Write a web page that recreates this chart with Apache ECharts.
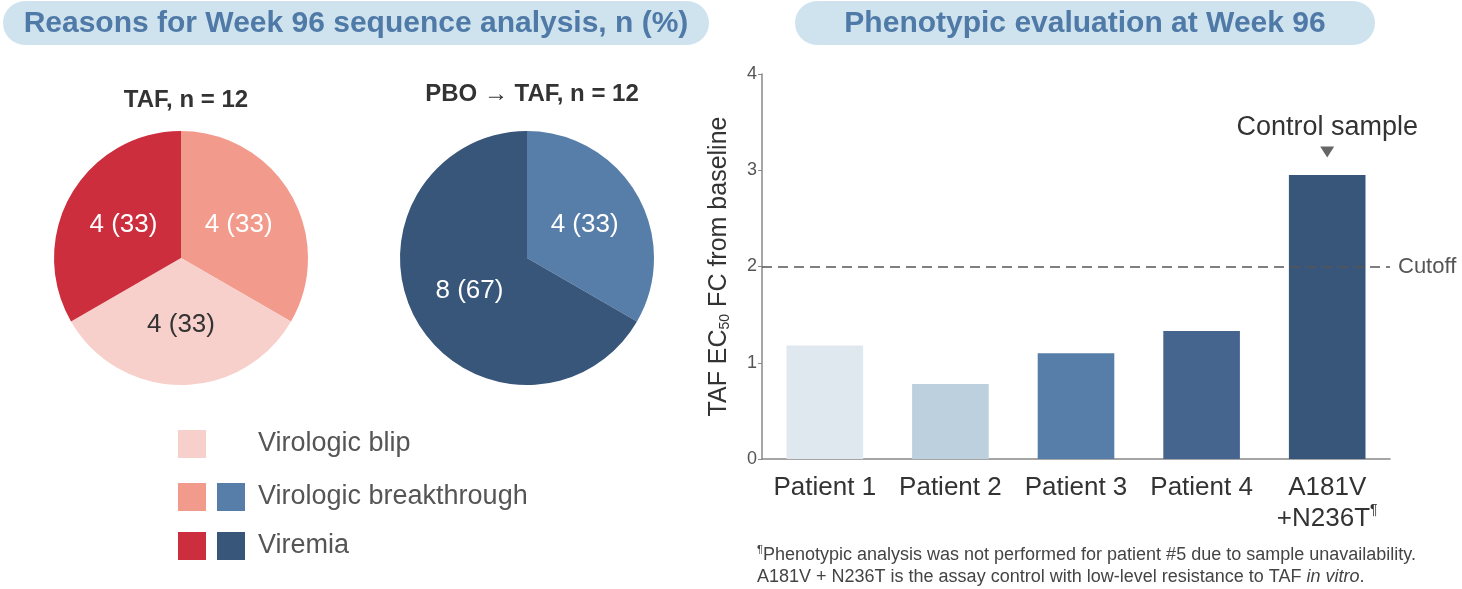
<!DOCTYPE html>
<html>
<head>
<meta charset="utf-8">
<script src="https://cdn.jsdelivr.net/npm/echarts@6/dist/echarts.min.js"></script>
<style>
  html, body { margin: 0; padding: 0; background: #fff; }
  #main { width: 1462px; height: 589px; }
</style>
</head>
<body>
<div id="main"></div>
<script>
// pie data
const reasons = ['Virologic blip', 'Virologic breakthrough', 'Viremia'];
const tafCounts = [4, 4, 4];
const tafPct = [33, 33, 33];
const pboCounts = [0, 4, 8];
const pboPct = [0, 33, 67];
const tafColors = ['#f8d0cb', '#f29b8d', '#cc2e3d'];
const pboColors = ['#dfe7ef', '#577ea8', '#38557a'];
// order of slices clockwise from 12 o'clock
const sliceOrder = [1, 0, 2];

// bar data
const patients = ['Patient 1', 'Patient 2', 'Patient 3', 'Patient 4', 'A181V\n+N236T{sup|¶}'];
const fcValues = [1.18, 0.78, 1.10, 1.33, 2.95];
const barColors = ['#dfe7ef', '#bcd0de', '#577ea8', '#45658e', '#38557a'];
const cutoff = 2;
const yTicks = [0, 1, 2, 3, 4];

const FONT = '"Liberation Sans", Arial, sans-serif';

let chart = echarts.init(document.getElementById('main'));

function pieData(counts, pct, colors) {
  let out = [];
  for (let i of sliceOrder) {
    if (counts[i] === 0) continue;
    out.push({
      name: reasons[i],
      value: counts[i],
      pct: pct[i],
      itemStyle: { color: colors[i] },
      label: { color: i === 0 ? '#333' : '#fff' }
    });
  }
  return out;
}

function pieSeries(center, counts, pct, colors) {
  let data = pieData(counts, pct, colors);
  return {
    type: 'pie',
    center: center,
    radius: 127,
    startAngle: 90,
    clockwise: true,
    silent: true,
    label: {
      position: 'inside',
      fontFamily: FONT,
      fontSize: 26,
      formatter: p => p.value + ' (' + data[p.dataIndex].pct + ')'
    },
    labelLine: { show: false },
    data: data
  };
}

// legend built as graphic (two swatch columns)
let legendGraphics = [];
const legendRows = [444, 497, 546];
for (let i = 0; i < reasons.length; i++) {
  legendGraphics.push({
    type: 'rect', x: 178, y: legendRows[i] - 14,
    shape: { width: 28, height: 28 }, style: { fill: tafColors[i] }
  });
  if (pboCounts[i] > 0) {
    legendGraphics.push({
      type: 'rect', x: 217, y: legendRows[i] - 14,
      shape: { width: 28, height: 28 }, style: { fill: pboColors[i] }
    });
  }
  legendGraphics.push({
    type: 'text', x: 258, y: legendRows[i],
    style: { text: reasons[i], fontFamily: FONT, fontSize: 27, fill: '#555', align: 'left', verticalAlign: 'middle' }
  });
}

let option = {
  animation: false,
  title: [
    { text: 'TAF, n = 12', left: 181, top: 83, textAlign: 'center',
      textStyle: { fontFamily: FONT, fontSize: 24, fontWeight: 'bold', color: '#333' } },
    { text: 'PBO → TAF, n = 12', left: 527, top: 77, textAlign: 'center',
      textStyle: { fontFamily: FONT, fontSize: 24, fontWeight: 'bold', color: '#333' } }
  ],
  graphic: [
    { type: 'rect', x: 3, y: 1, shape: { width: 706, height: 44, r: 22 }, style: { fill: '#cfe3ef' } },
    { type: 'text', x: 356, y: 24, style: { text: 'Reasons for Week 96 sequence analysis, n (%)',
      align: 'center', verticalAlign: 'middle', fontFamily: FONT, fontWeight: 'bold', fontSize: 30, fill: '#4f79a6' } },
    { type: 'rect', x: 795, y: 1, shape: { width: 580, height: 44, r: 22 }, style: { fill: '#cfe3ef' } },
    { type: 'text', x: 1085, y: 24, style: { text: 'Phenotypic evaluation at Week 96',
      align: 'center', verticalAlign: 'middle', fontFamily: FONT, fontWeight: 'bold', fontSize: 30, fill: '#4f79a6' } },
    {
      type: 'text', x: 757, y: 544,
      style: {
        text: '{sup|¶}Phenotypic analysis was not performed for patient #5 due to sample unavailability.\nA181V + N236T is the assay control with low-level resistance to TAF {it|in vitro}.',
        fontFamily: FONT, fontSize: 18, fill: '#444', lineHeight: 22,
        rich: {
          sup: { fontSize: 11, verticalAlign: 'top', fill: '#444', fontFamily: FONT, padding: [0, 0, 8, 0] },
          it: { fontStyle: 'italic', fontSize: 18, fill: '#444', fontFamily: FONT }
        }
      }
    }
  ].concat(legendGraphics),
  grid: { left: 762, top: 74, right: 72, bottom: 130 },
  xAxis: {
    type: 'category',
    data: patients,
    axisLine: { lineStyle: { color: '#888', width: 1.5 } },
    axisTick: { alignWithLabel: true, length: 5, lineStyle: { color: '#888' } },
    axisLabel: {
      interval: 0,
      fontFamily: FONT, fontSize: 26, color: '#333', margin: 13, lineHeight: 31,
      rich: { sup: { fontSize: 14, verticalAlign: 'top', color: '#333', padding: [0, 0, 10, 0] } }
    }
  },
  yAxis: {
    type: 'value',
    min: yTicks[0], max: yTicks[yTicks.length - 1], interval: 1,
    name: 'TAF EC{sub|50} FC from baseline',
    nameLocation: 'middle', nameRotate: 90, nameGap: 30,
    nameTextStyle: {
      fontFamily: FONT, fontSize: 25, color: '#333',
      rich: { sub: { fontSize: 14, color: '#333', verticalAlign: 'bottom', padding: [10, 0, 0, 0] } }
    },
    axisLine: { show: true, lineStyle: { color: '#888', width: 1.5 } },
    axisTick: { show: true, length: 4, lineStyle: { color: '#888' } },
    axisLabel: { fontFamily: FONT, fontSize: 18, color: '#555', margin: 5 },
    splitLine: { show: false }
  },
  series: [
    pieSeries([181, 258], tafCounts, tafPct, tafColors),
    pieSeries([527, 258], pboCounts, pboPct, pboColors),
    {
      type: 'bar',
      barWidth: '61%',
      silent: true,
      data: fcValues.map((v, i) => ({ value: v, itemStyle: { color: barColors[i] } })),
      markLine: {
        silent: true,
        symbol: 'none',
        lineStyle: { type: [10, 6], color: '#555', width: 1.5 },
        label: { position: 'end', formatter: 'Cutoff', fontFamily: FONT, fontSize: 22, color: '#555', distance: 8 },
        data: [{ yAxis: cutoff }]
      },
      markPoint: {
        silent: true,
        symbol: 'triangle',
        symbolRotate: 180,
        symbolSize: [14, 11],
        symbolOffset: [0, -23],
        itemStyle: { color: '#666' },
        label: { position: 'top', distance: 6, formatter: 'Control sample', fontFamily: FONT, fontSize: 27, color: '#333' },
        data: [{ coord: [4, fcValues[4]] }]
      }
    }
  ]
};

chart.setOption(option);
</script>
</body>
</html>
